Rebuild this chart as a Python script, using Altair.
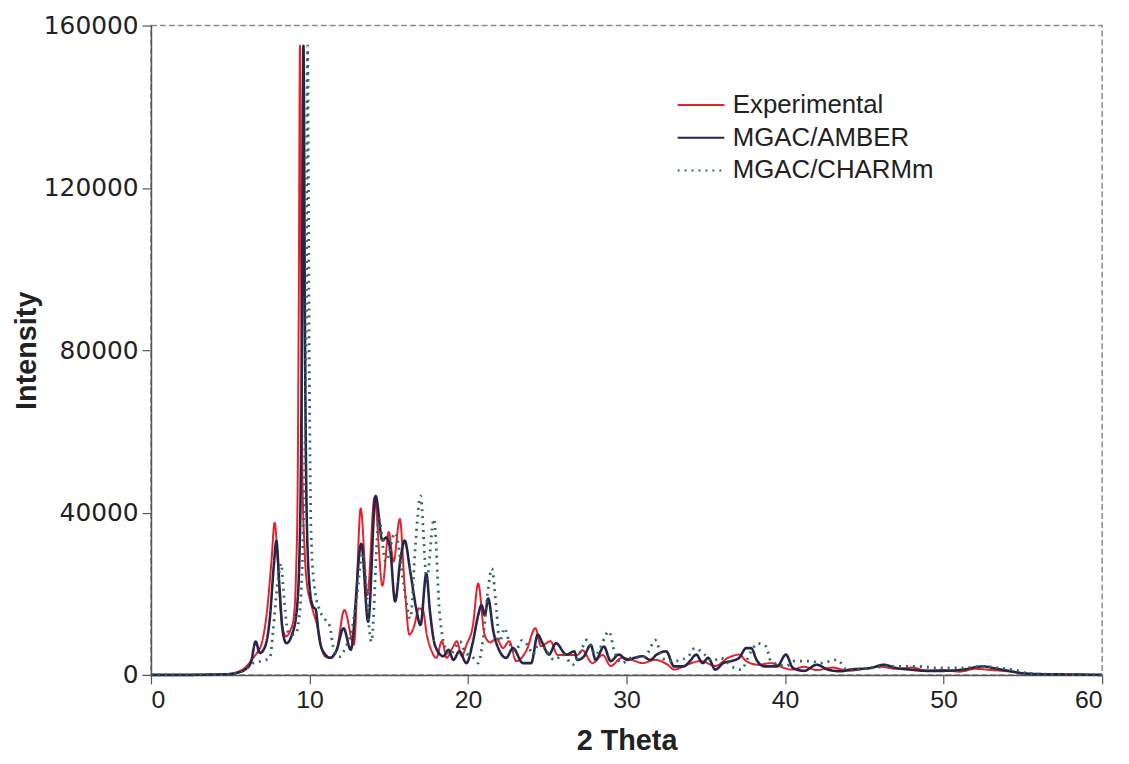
import altair as alt
import pandas as pd

# ---- data (2 Theta vs Intensity) ----
series_names = ["Experimental", "MGAC/AMBER", "MGAC/CHARMm"]

exp_x = [0, 2, 4, 5, 5.5, 6.0, 6.4, 6.7, 7.0, 7.3, 7.6, 7.8, 8.0, 8.2, 8.5, 8.8,
         9.0, 9.15, 9.25, 9.32, 9.4, 9.48, 9.55, 9.7, 9.85, 10.0, 10.2, 10.5, 10.8,
         11.0, 11.3, 11.7, 12.2, 12.8, 13.23, 13.65, 14.1, 14.6, 15.0, 15.3, 15.7,
         16.0, 16.3, 16.6, 16.9, 17.15, 17.4, 17.7, 18.0, 18.35, 18.66, 19.0, 19.3,
         19.6, 19.9, 20.3, 20.64, 21.05, 21.4, 21.8, 22.2, 22.6, 23.04, 23.67, 24.25,
         24.6, 25.2, 25.65, 26.3, 26.9, 27.2, 27.85, 28.5, 29.0, 29.7, 30.35, 31.0,
         31.8, 32.6, 33.0, 33.8, 34.7, 35.6, 36.4, 37.1, 37.55, 38.3, 39.1, 39.95,
         40.4, 41.2, 42.0, 43.0, 44.0, 45.0, 46.0, 47.0, 48.0, 49.0, 50.0, 51.0,
         52.0, 53.0, 54.0, 55.0, 56, 58, 60]
exp_y = [0, 0, 100, 300, 800, 2000, 4000, 5500, 8000, 15000, 28000, 37500, 28000, 15000, 9500, 11000,
         14000, 25000, 45000, 90000, 155000, 90000, 50000, 30000, 22000, 19000, 16000, 12000, 6000,
         4500, 4200, 6000, 16000, 7400, 41000, 19600, 43700, 22000, 35200, 27900, 38400,
         22000, 9900, 12000, 16400, 16000, 9900, 5900, 4200, 8300, 4200, 6500, 8300,
         4600, 7400, 12000, 22500, 9800, 8000, 9000, 6600, 8300, 3400, 5900, 11500,
         7100, 8300, 4900, 4900, 4900, 6100, 2900, 4900, 2200, 4200, 3700, 2900,
         3700, 2500, 1300, 2500, 3400, 2200, 4200, 5000, 3400, 2500, 2900, 1700,
         1300, 2000, 1200, 1800, 1000, 1500, 2000, 1500, 1800, 1000, 1200, 800,
         1500, 1200, 900, 400, 200, 100, 0]

amb_x = [0, 2, 4, 5, 5.5, 6.0, 6.3, 6.6, 6.87, 7.2, 7.5, 7.75, 7.91, 8.1, 8.3, 8.54,
         8.9, 9.2, 9.4, 9.52, 9.62, 9.72, 9.82, 10.0, 10.2, 10.4, 10.55, 10.7, 11.0,
         11.3, 11.7, 12.15, 12.6, 13.27, 13.7, 14.17, 14.6, 14.86, 15.1, 15.4, 15.74,
         16.0, 16.36, 16.7, 17.0, 17.37, 17.6, 17.93, 18.45, 18.77, 19.08, 19.45, 19.9,
         20.3, 20.64, 20.85, 21.06, 21.27, 21.6, 22.0, 22.4, 22.84, 23.46, 23.98, 24.4,
         24.7, 25.1, 25.55, 26.2, 26.7, 26.9, 27.3, 27.74, 28.05, 28.57, 29.0, 29.5,
         30.04, 30.5, 31.0, 31.5, 31.9, 32.5, 33.0, 33.6, 34.0, 34.4, 34.8, 35.15,
         35.6, 36.1, 36.6, 37.1, 37.55, 37.86, 38.2, 38.7, 39.5, 40.05, 40.5, 41.2,
         42.0, 42.7, 43.5, 44.1, 45.4, 46.2, 47.0, 47.9, 48.9, 50.0, 51.2, 52.5,
         53.1, 54.1, 55, 56, 58, 60]
amb_y = [0, 0, 100, 200, 600, 1500, 3000, 8200, 5400, 7000, 14000, 27000, 33000, 22000, 11000, 7800,
         10000, 16000, 35000, 80000, 155000, 80000, 40000, 22000, 17000, 16000, 11000, 7400, 5000,
         4200, 6000, 11500, 6200, 32300, 13100, 44100, 33100, 33900, 30600, 18100, 28600,
         33100, 25400, 17000, 12300, 24900, 15600, 7100, 4600, 6200, 3700, 5800, 2900,
         8000, 14700, 17200, 14700, 18800, 10700, 5800, 4200, 6600, 2900, 2900, 9900,
         7800, 5000, 7800, 5000, 5800, 3700, 4500, 7400, 3700, 7000, 3400, 5000,
         3700, 4200, 4600, 3700, 5000, 5800, 2100, 2100, 3400, 5000, 2900, 4200,
         1300, 2900, 3400, 4200, 6600, 6600, 3700, 2100, 2100, 5000, 1700, 1000,
         2500, 1300, 900, 1300, 1700, 2500, 1700, 1300, 1000, 1000, 1300, 2100,
         1700, 1000, 400, 200, 100, 0]

chm_x = [0, 2, 4, 5, 5.5, 6.0, 6.5, 6.97, 7.5, 7.7, 8.0, 8.22, 8.33, 8.64, 8.85,
         9.1, 9.4, 9.6, 9.78, 9.88, 9.98, 10.1, 10.3, 10.6, 10.94, 11.25, 11.56, 11.9,
         12.3, 12.6, 12.95, 13.35, 13.9, 14.38, 14.8, 15.4, 15.95, 16.36, 16.68, 17.0,
         17.4, 17.85, 18.2, 18.45, 18.87, 19.5, 19.8, 20.33, 20.64, 20.95, 21.27, 21.5,
         21.8, 22.0, 22.3, 22.6, 23.0, 23.4, 23.8, 24.1, 24.5, 24.9, 25.45, 26.0, 26.6,
         27.2, 27.5, 28.05, 28.9, 29.2, 29.7, 30.35, 30.9, 31.4, 31.8, 32.3, 33.0, 33.9,
         34.3, 34.7, 35.45, 35.9, 36.8, 37.2, 37.86, 38.27, 38.8, 39.1, 39.6, 40.05,
         40.6, 41.6, 42.2, 43.3, 43.9, 45.4, 46.6, 48.3, 49.55, 51.2, 52.5, 53.5, 54.4,
         55.2, 56, 58, 60]
chm_y = [0, 0, 50, 150, 500, 1500, 3000, 3400, 4200, 10700, 23000, 27400, 22100, 10700, 9900,
         10000, 16000, 35000, 80000, 155000, 80000, 35000, 22000, 16400, 13900, 12300, 5800, 4500,
         7000, 9900, 18000, 30000, 8200, 38400, 27900, 35000, 22100, 13900, 31900, 44100,
         23700, 38400, 15600, 8200, 5000, 8200, 5800, 4200, 2900, 9000, 21300, 26200,
         15600, 8200, 11500, 8000, 5900, 8500, 7100, 5000, 8200, 6200, 3700, 5000, 2500,
         6600, 8600, 5000, 10700, 6200, 2900, 4200, 4200, 5800, 8600, 4000, 3400, 4600,
         6600, 5800, 3400, 4200, 1700, 1300, 5800, 7800, 7000, 3400, 2500, 2100,
         3400, 3400, 2900, 3700, 1300, 1700, 2100, 2100, 1700, 1700, 2100, 1700, 1300,
         500, 200, 100, 0]

x_ticks = [0, 10, 20, 30, 40, 50, 60]
y_ticks = [0, 40000, 80000, 120000, 160000]

colors = ["#e4222b", "#27254a", "#2f6a5b"]
dashes = [[1, 0], [1, 0], [2, 5]]
widths = [2.0, 2.6, 2.8]

rows = []
for name, xs, ys in zip(series_names, [exp_x, amb_x, chm_x], [exp_y, amb_y, chm_y]):
    for xv, yv in zip(xs, ys):
        rows.append({"theta": xv, "intensity": yv, "series": name})
df = pd.DataFrame(rows)

legend = alt.Legend(
    orient="none", legendX=536, legendY=62, padding=0,
    symbolType="M-1.42,0H1.42", symbolSize=1100, symbolStrokeWidth=2.2,
    labelFont="Liberation Sans", labelFontSize=26, labelColor="#222",
    labelOffset=14, rowPadding=2, symbolFillColor="transparent", labelLimit=400,
)

x_enc = alt.X("theta:Q", scale=alt.Scale(domain=[0, 60], nice=False),
              axis=alt.Axis(values=x_ticks, title="2 Theta", titleX=479, titleY=66,
                            titleBaseline="middle", format="d"))
y_enc = alt.Y("intensity:Q", scale=alt.Scale(domain=[0, 160000], nice=False),
              axis=alt.Axis(values=y_ticks, title="Intensity", titleX=-125, titleY=327,
                            titleBaseline="middle", labelFont="DejaVu Sans", labelFontSize=25,
                            format="d"))
color_enc = alt.Color("series:N", scale=alt.Scale(domain=series_names, range=colors),
                      legend=legend, title=None)
dash_enc = alt.StrokeDash("series:N", scale=alt.Scale(domain=series_names, range=dashes),
                          legend=legend, title=None)

layers = []
for name, w in zip(series_names, widths):
    layers.append(
        alt.Chart(df)
        .transform_filter(alt.datum.series == name)
        .mark_line(strokeWidth=w, interpolate="monotone")
        .encode(x=x_enc, y=y_enc, color=color_enc, strokeDash=dash_enc)
    )

chart = (
    alt.layer(*layers)
    .properties(width=958, height=654,
                autosize=alt.AutoSizeParams(type="none"),
                padding={"left": 144, "top": 15, "right": 19, "bottom": 79})
    .configure(background="white")
    .configure_view(stroke="#8c8c8c", strokeDash=[6, 3], strokeWidth=1.5)
    .configure_axis(
        grid=False, domainColor="#555555", domainWidth=1.5, tickColor="#555555",
        tickWidth=1.2, tickSize=9, labelFont="Liberation Sans", labelFontSize=25,
        labelColor="#222", labelPadding=4, titleFont="Liberation Sans",
        titleFontSize=29, titleFontWeight="bold", titleColor="#222",
    )
)

chart.save("out.html", embed_options={"renderer": "svg", "actions": False})
